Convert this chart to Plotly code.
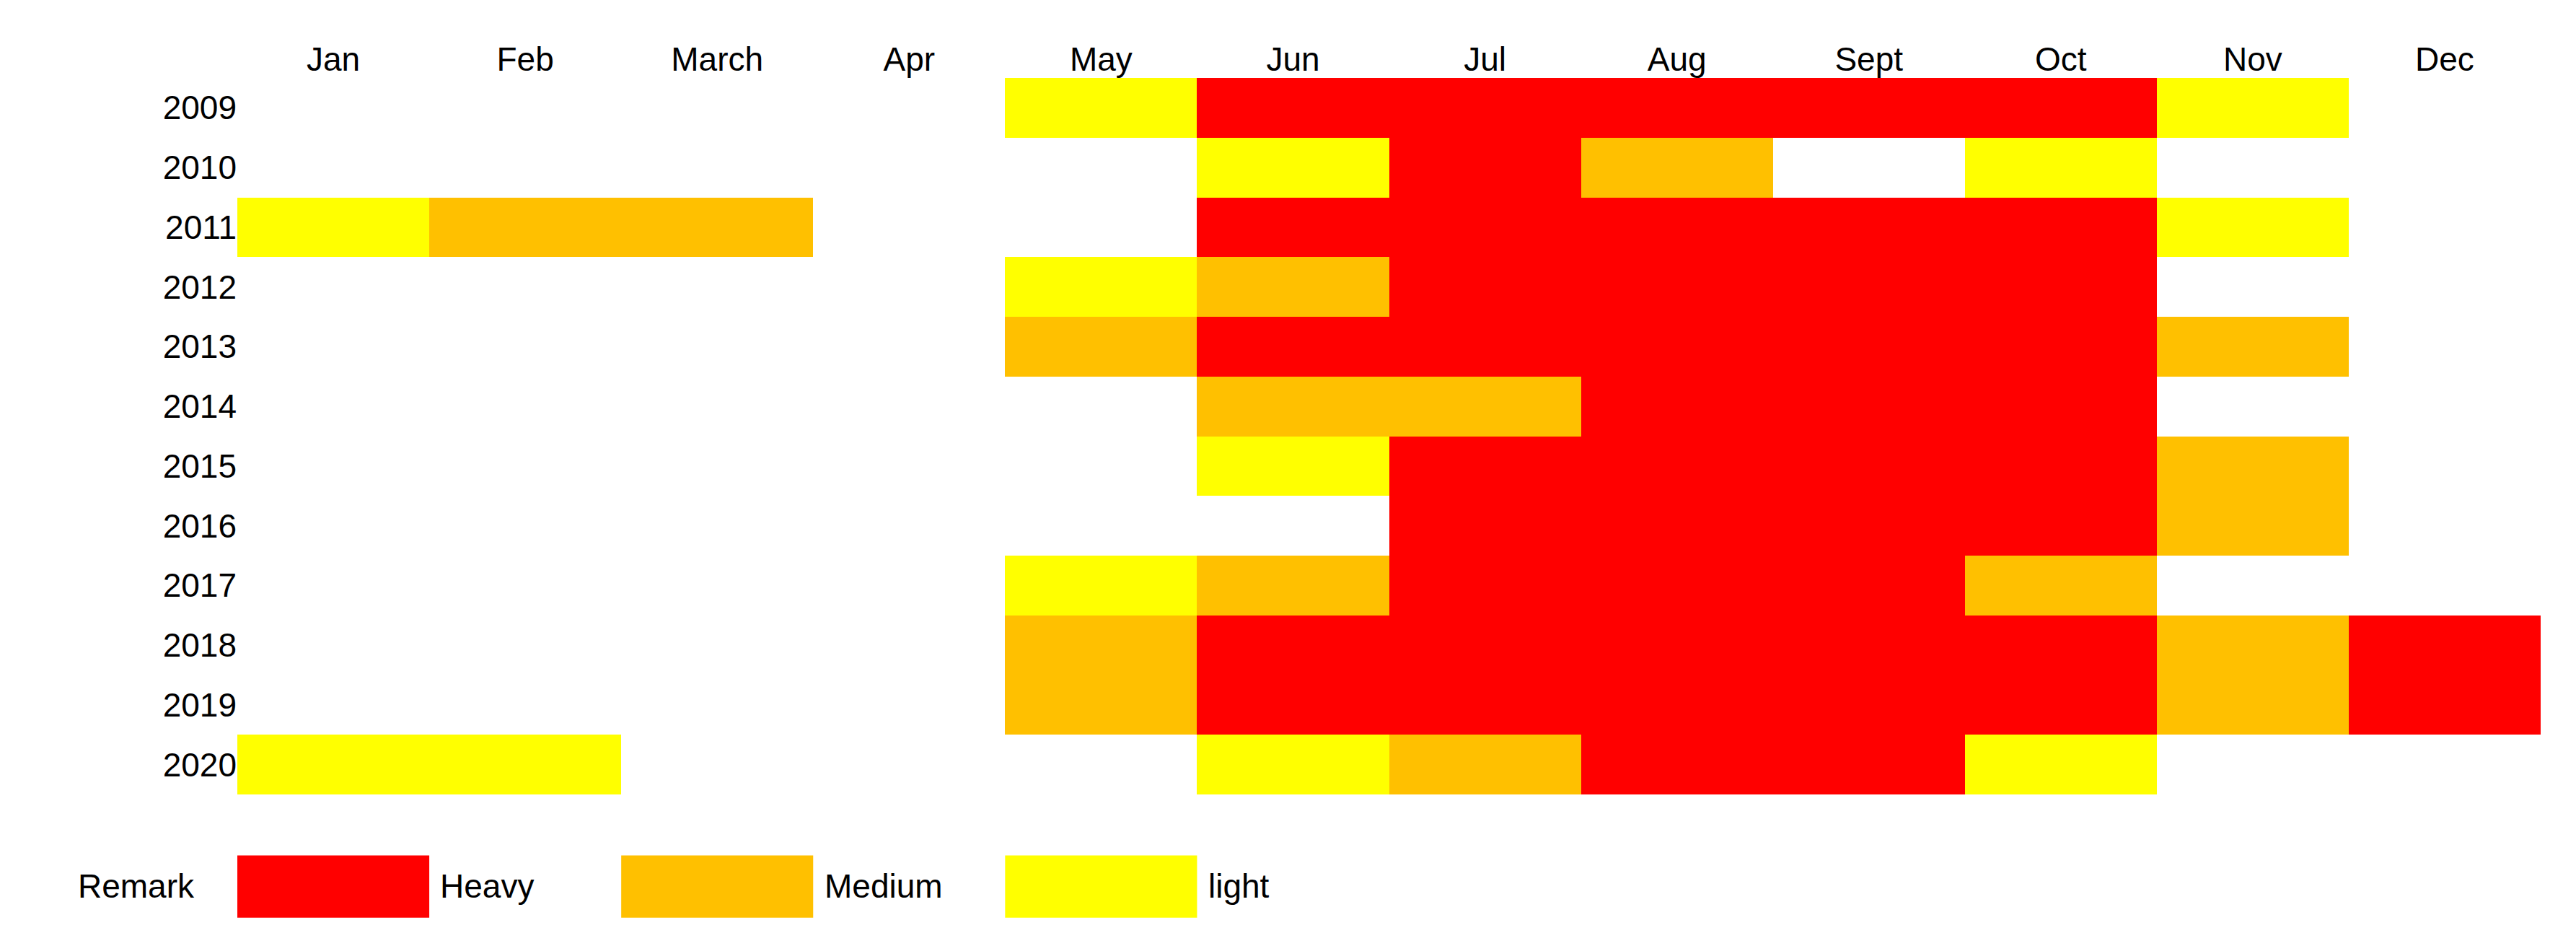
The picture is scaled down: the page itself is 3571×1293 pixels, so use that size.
import plotly.graph_objects as go

months = ["Jan","Feb","March","Apr","May","Jun","Jul","Aug","Sept","Oct","Nov","Dec"]
years = [str(y) for y in range(2009, 2021)]
# 0 none, 1 light, 2 medium, 3 heavy
y2009 = [0,0,0,0,1,3,3,3,3,3,1,0]
y2010 = [0,0,0,0,0,1,3,2,0,1,0,0]
y2011 = [1,2,2,0,0,3,3,3,3,3,1,0]
y2012 = [0,0,0,0,1,2,3,3,3,3,0,0]
y2013 = [0,0,0,0,2,3,3,3,3,3,2,0]
y2014 = [0,0,0,0,0,2,2,3,3,3,0,0]
y2015 = [0,0,0,0,0,1,3,3,3,3,2,0]
y2016 = [0,0,0,0,0,0,3,3,3,3,2,0]
y2017 = [0,0,0,0,1,2,3,3,3,2,0,0]
y2018 = [0,0,0,0,2,3,3,3,3,3,2,3]
y2019 = [0,0,0,0,2,3,3,3,3,3,2,3]
y2020 = [1,1,0,0,0,1,2,3,3,1,0,0]
z = [y2009,y2010,y2011,y2012,y2013,y2014,y2015,y2016,y2017,y2018,y2019,y2020]
legend_labels = ["Heavy","Medium","light"]
legend_colors = ["#FF0000","#FFC000","#FFFF00"]

cs = [[0,"#FFFFFF"],[0.25,"#FFFFFF"],[0.25,"#FFFF00"],[0.5,"#FFFF00"],
      [0.5,"#FFC000"],[0.75,"#FFC000"],[0.75,"#FF0000"],[1,"#FF0000"]]
xi = list(range(12)); yi = list(range(12))
fig = go.Figure(go.Heatmap(z=z, x=xi, y=yi, colorscale=cs, zmin=-0.5, zmax=3.5,
                           showscale=False, hoverinfo="skip"))
font = dict(family="Liberation Sans, Arial", size=46, color="black")
fig.update_layout(width=3571, height=1293, plot_bgcolor="white", paper_bgcolor="white",
    margin=dict(l=321, r=57, t=100, b=200), font=font,
    xaxis=dict(tickvals=xi, ticktext=months, side="top", showgrid=False, zeroline=False,
               range=[-0.5, 11.5], ticks="", ticklen=0),
    yaxis=dict(tickvals=yi, ticktext=years, showgrid=False,
               zeroline=False, ticks="", range=[11.5, -0.5]))
shapes = []
anns = [dict(text="Remark", xref="paper", yref="paper", x=-0.018, y=-0.128, xanchor="right",
             yanchor="middle", showarrow=False, font=font)]
for i, (lab, col) in enumerate(zip(legend_labels, legend_colors)):
    c = 2*i
    shapes.append(dict(type="rect", xref="x", yref="paper", x0=c-0.5, x1=c+0.5,
                       y0=-0.172, y1=-0.085, fillcolor=col, line_width=0))
    anns.append(dict(text=lab, xref="x", yref="paper", x=c+0.55, y=-0.128, xanchor="left",
                     yanchor="middle", showarrow=False, font=font))
fig.update_layout(shapes=shapes, annotations=anns)
fig.write_html("out.html")
